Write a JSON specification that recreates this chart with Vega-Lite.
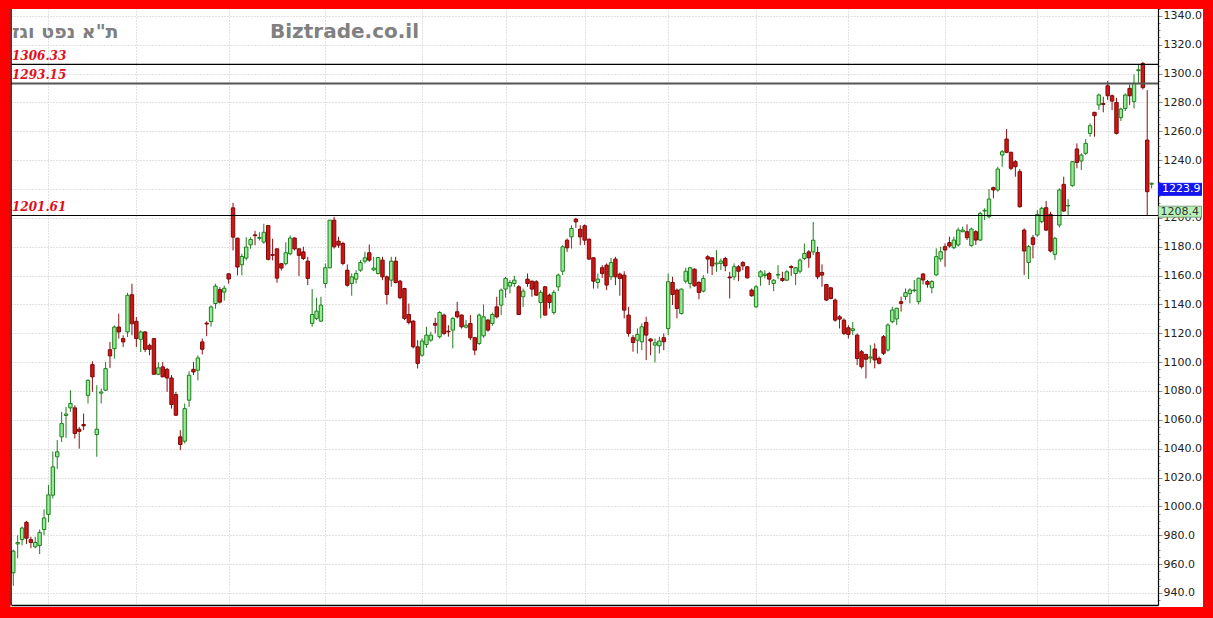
{
  "$schema": "https://vega.github.io/schema/vega-lite/v6.json",
  "width": 1147,
  "height": 597,
  "autosize": {"type": "none"},
  "padding": {"left": 11, "top": 8, "right": 55, "bottom": 13},
  "background": "white",
  "config": {"view": {"stroke": null}, "font": "DejaVu Sans"},
  "datasets": {
    "candles": [
      {"i":1,"open":954,"high":970,"low":945,"close":969},
      {"i":2,"open":974,"high":980,"low":964,"close":975},
      {"i":3,"open":977,"high":986,"low":973,"close":985},
      {"i":4,"open":989,"high":990,"low":974,"close":978},
      {"i":5,"open":977,"high":979,"low":971,"close":975},
      {"i":6,"open":972,"high":979,"low":971,"close":975},
      {"i":7,"open":973,"high":984,"low":967,"close":982},
      {"i":8,"open":984,"high":998,"low":980,"close":992},
      {"i":9,"open":994.5,"high":1015,"low":989,"close":1008},
      {"i":10,"open":1007.8,"high":1038,"low":1005.5,"close":1027.4},
      {"i":11,"open":1034.4,"high":1046,"low":1026,"close":1037.8},
      {"i":12,"open":1048.2,"high":1065.5,"low":1044.7,"close":1057.4},
      {"i":13,"open":1063,"high":1069,"low":1047.5,"close":1064},
      {"i":14,"open":1068.3,"high":1080.5,"low":1065.5,"close":1071.3},
      {"i":15,"open":1068.3,"high":1070,"low":1047,"close":1050.5},
      {"i":16,"open":1053.5,"high":1055,"low":1040,"close":1052},
      {"i":17,"open":1056.8,"high":1064.4,"low":1052.8,"close":1055.8},
      {"i":18,"open":1077,"high":1088,"low":1071.3,"close":1087.4},
      {"i":19,"open":1098.3,"high":1100.6,"low":1079.4,"close":1089.8},
      {"i":20,"open":1049.8,"high":1084,"low":1034.4,"close":1053.5},
      {"i":21,"open":1078.5,"high":1081.7,"low":1071.3,"close":1079.3},
      {"i":22,"open":1080.5,"high":1100,"low":1080,"close":1095.5},
      {"i":23,"open":1108.6,"high":1114,"low":1096,"close":1104.3},
      {"i":24,"open":1109.3,"high":1125.5,"low":1102.4,"close":1124.3},
      {"i":25,"open":1124.3,"high":1133.6,"low":1116.3,"close":1120.9},
      {"i":26,"open":1116.3,"high":1118.6,"low":1110.5,"close":1114},
      {"i":27,"open":1120.9,"high":1148,"low":1117.4,"close":1146.3},
      {"i":28,"open":1146.7,"high":1154.3,"low":1118.6,"close":1126.6},
      {"i":29,"open":1128.3,"high":1131.3,"low":1110.5,"close":1116.3},
      {"i":30,"open":1115.8,"high":1122,"low":1107,"close":1120.9},
      {"i":31,"open":1120.9,"high":1121.5,"low":1107,"close":1108.9},
      {"i":32,"open":1111.6,"high":1112.8,"low":1104.7,"close":1108.9},
      {"i":33,"open":1116.3,"high":1116.5,"low":1091.4,"close":1091.6},
      {"i":34,"open":1091.6,"high":1100,"low":1091,"close":1096},
      {"i":35,"open":1096.7,"high":1100,"low":1089.5,"close":1089.8},
      {"i":36,"open":1095,"high":1096,"low":1079.4,"close":1089},
      {"i":37,"open":1089,"high":1091,"low":1067.8,"close":1070.6},
      {"i":38,"open":1077.5,"high":1079.4,"low":1062.7,"close":1063.2},
      {"i":39,"open":1048.2,"high":1052.8,"low":1039,"close":1042.9},
      {"i":40,"open":1045.2,"high":1071.3,"low":1043.6,"close":1067.8},
      {"i":41,"open":1073.6,"high":1093.7,"low":1069,"close":1090.9},
      {"i":42,"open":1095,"high":1100,"low":1091,"close":1093.2},
      {"i":43,"open":1094.4,"high":1104.7,"low":1087.4,"close":1102.9},
      {"i":44,"open":1114,"high":1116.3,"low":1105.3,"close":1108.9},
      {"i":45,"open":1127,"high":1128.3,"low":1118,"close":1126.4},
      {"i":46,"open":1128.1,"high":1139.3,"low":1124.6,"close":1138.2},
      {"i":47,"open":1140.6,"high":1154.3,"low":1137,"close":1152.7},
      {"i":48,"open":1150.2,"high":1152,"low":1140.6,"close":1141.6},
      {"i":49,"open":1148.5,"high":1153,"low":1142.7,"close":1151.2},
      {"i":50,"open":1161.2,"high":1161.5,"low":1154.3,"close":1157.6},
      {"i":51,"open":1206.9,"high":1210.4,"low":1177.4,"close":1186.6},
      {"i":52,"open":1185.9,"high":1186.2,"low":1160.1,"close":1165.9},
      {"i":53,"open":1167.5,"high":1175.1,"low":1160.1,"close":1173.2},
      {"i":54,"open":1172.1,"high":1186.6,"low":1170.5,"close":1179.7},
      {"i":55,"open":1181.3,"high":1186.6,"low":1178.5,"close":1185},
      {"i":56,"open":1188.2,"high":1191,"low":1181,"close":1187.6},
      {"i":57,"open":1185.8,"high":1190,"low":1184.3,"close":1186.4},
      {"i":58,"open":1183.2,"high":1195.8,"low":1182,"close":1190},
      {"i":59,"open":1194.7,"high":1195,"low":1170.5,"close":1171.2},
      {"i":60,"open":1174.5,"high":1185.5,"low":1170.5,"close":1174},
      {"i":61,"open":1178.5,"high":1178.8,"low":1155,"close":1158.2},
      {"i":62,"open":1168.2,"high":1168.5,"low":1163.5,"close":1165.2},
      {"i":63,"open":1168.2,"high":1183,"low":1167,"close":1175.8},
      {"i":64,"open":1175.1,"high":1187.8,"low":1174,"close":1186},
      {"i":65,"open":1186,"high":1186.5,"low":1177.4,"close":1178.5},
      {"i":66,"open":1178.5,"high":1179,"low":1159.6,"close":1174},
      {"i":67,"open":1176.4,"high":1180,"low":1170.7,"close":1171.8},
      {"i":68,"open":1170,"high":1173,"low":1153.4,"close":1158},
      {"i":69,"open":1126.8,"high":1150.6,"low":1124.5,"close":1133},
      {"i":70,"open":1130.3,"high":1144.6,"low":1129.1,"close":1135.3},
      {"i":71,"open":1128.4,"high":1145.3,"low":1128,"close":1139.5},
      {"i":72,"open":1154.5,"high":1168.4,"low":1151.5,"close":1165.4},
      {"i":73,"open":1165.4,"high":1198.4,"low":1165,"close":1198.4},
      {"i":74,"open":1198.4,"high":1200.7,"low":1178.7,"close":1179.9},
      {"i":75,"open":1183.8,"high":1186.8,"low":1179.2,"close":1181.1},
      {"i":76,"open":1182.2,"high":1183.4,"low":1167.2,"close":1168.4},
      {"i":77,"open":1163.7,"high":1167.7,"low":1152.2,"close":1153.3},
      {"i":78,"open":1154.5,"high":1161.4,"low":1146,"close":1159.1},
      {"i":79,"open":1157.5,"high":1163.7,"low":1154.5,"close":1161.4},
      {"i":80,"open":1163.7,"high":1170.7,"low":1162.6,"close":1169},
      {"i":81,"open":1170,"high":1176.4,"low":1168.4,"close":1172.3},
      {"i":82,"open":1175.8,"high":1181.5,"low":1169.5,"close":1170.7},
      {"i":83,"open":1164,"high":1173,"low":1163,"close":1165.2},
      {"i":84,"open":1161.4,"high":1173,"low":1160.7,"close":1172.5},
      {"i":85,"open":1170.7,"high":1173,"low":1156.8,"close":1159.1},
      {"i":86,"open":1159.1,"high":1160,"low":1140,"close":1146.9},
      {"i":87,"open":1156.8,"high":1173,"low":1152.2,"close":1170},
      {"i":88,"open":1170,"high":1173,"low":1154.5,"close":1155.2},
      {"i":89,"open":1156.1,"high":1157,"low":1143.6,"close":1144.6},
      {"i":90,"open":1151,"high":1151.5,"low":1129.1,"close":1130.3},
      {"i":91,"open":1133,"high":1140.6,"low":1126.1,"close":1127.5},
      {"i":92,"open":1128.4,"high":1129,"low":1109.5,"close":1110.6},
      {"i":93,"open":1110.6,"high":1115.2,"low":1095.6,"close":1099.1},
      {"i":94,"open":1104.8,"high":1116.4,"low":1103.7,"close":1114.6},
      {"i":95,"open":1112.2,"high":1124.5,"low":1110,"close":1118.7},
      {"i":96,"open":1115.2,"high":1121,"low":1114.1,"close":1118.7},
      {"i":97,"open":1126.8,"high":1130.7,"low":1119.9,"close":1125.6},
      {"i":98,"open":1117.6,"high":1135.3,"low":1116.4,"close":1134.4},
      {"i":99,"open":1132.6,"high":1133.7,"low":1118.7,"close":1119.9},
      {"i":100,"open":1121.4,"high":1125.6,"low":1117.6,"close":1121},
      {"i":101,"open":1122.2,"high":1131.4,"low":1109.5,"close":1130.3},
      {"i":102,"open":1134.9,"high":1141.8,"low":1130.3,"close":1131.4},
      {"i":103,"open":1132.6,"high":1133,"low":1123.3,"close":1124.5},
      {"i":104,"open":1124.2,"high":1129.1,"low":1123.3,"close":1125.6},
      {"i":105,"open":1126.8,"high":1132.6,"low":1115.2,"close":1116.9},
      {"i":106,"open":1116.9,"high":1117.5,"low":1104.8,"close":1108.3},
      {"i":107,"open":1112.9,"high":1133.7,"low":1111.8,"close":1132.6},
      {"i":108,"open":1118.2,"high":1140,"low":1116.9,"close":1131.4},
      {"i":109,"open":1129.1,"high":1130,"low":1121,"close":1122.2},
      {"i":110,"open":1126.8,"high":1134.4,"low":1125.2,"close":1133},
      {"i":111,"open":1138.3,"high":1145.3,"low":1130.3,"close":1131.4},
      {"i":112,"open":1139.5,"high":1151,"low":1132.6,"close":1149.9},
      {"i":113,"open":1150.6,"high":1159.1,"low":1144.6,"close":1158},
      {"i":114,"open":1152.7,"high":1156.8,"low":1147.6,"close":1155.2},
      {"i":115,"open":1154.5,"high":1159.8,"low":1152.2,"close":1156.8},
      {"i":116,"open":1152.2,"high":1153.4,"low":1132.6,"close":1133},
      {"i":117,"open":1145.3,"high":1151,"low":1138.3,"close":1149.2},
      {"i":118,"open":1157.5,"high":1161.4,"low":1152.2,"close":1154.5},
      {"i":119,"open":1156.1,"high":1156.5,"low":1145.3,"close":1150.6},
      {"i":120,"open":1155.7,"high":1156.8,"low":1146,"close":1146.4},
      {"i":121,"open":1141.3,"high":1149.9,"low":1130.3,"close":1148.3},
      {"i":122,"open":1152.2,"high":1152.8,"low":1132.3,"close":1132.6},
      {"i":123,"open":1146.4,"high":1147.5,"low":1137.2,"close":1141.3},
      {"i":124,"open":1134.4,"high":1149.9,"low":1133,"close":1148.3},
      {"i":125,"open":1152.2,"high":1161.4,"low":1149.2,"close":1160.3},
      {"i":126,"open":1163,"high":1181.1,"low":1160.3,"close":1179.9},
      {"i":127,"open":1184.5,"high":1185.7,"low":1176.4,"close":1179.2},
      {"i":128,"open":1186.8,"high":1194.9,"low":1178.7,"close":1192.6},
      {"i":129,"open":1199.1,"high":1200,"low":1193,"close":1197.2},
      {"i":130,"open":1192.1,"high":1194.9,"low":1181.1,"close":1186.8},
      {"i":131,"open":1194.5,"high":1195.4,"low":1181.1,"close":1184.5},
      {"i":132,"open":1185.2,"high":1185.6,"low":1170.7,"close":1171.4},
      {"i":133,"open":1172.3,"high":1172.8,"low":1151,"close":1156.1},
      {"i":134,"open":1155.2,"high":1161.4,"low":1151,"close":1157.5},
      {"i":135,"open":1165.4,"high":1167.2,"low":1158.4,"close":1161.4},
      {"i":136,"open":1167.2,"high":1168.4,"low":1149.9,"close":1153.4},
      {"i":137,"open":1159.1,"high":1172.3,"low":1156.8,"close":1169},
      {"i":138,"open":1171.4,"high":1173,"low":1153.4,"close":1159.1},
      {"i":139,"open":1161,"high":1162,"low":1146,"close":1158},
      {"i":140,"open":1160.3,"high":1163,"low":1130.3,"close":1136},
      {"i":141,"open":1132.6,"high":1138.3,"low":1117.6,"close":1119.9},
      {"i":142,"open":1116.9,"high":1118.7,"low":1107.2,"close":1113.6},
      {"i":143,"open":1115.2,"high":1123.3,"low":1106,"close":1119.2},
      {"i":144,"open":1114.1,"high":1126.8,"low":1108.3,"close":1124.5},
      {"i":145,"open":1127.5,"high":1131.4,"low":1101.4,"close":1118.7},
      {"i":146,"open":1116,"high":1116.5,"low":1104.8,"close":1114.6},
      {"i":147,"open":1111.8,"high":1116.4,"low":1099.8,"close":1113.4},
      {"i":148,"open":1111.3,"high":1117.6,"low":1106,"close":1114.6},
      {"i":149,"open":1116.9,"high":1119.9,"low":1108.3,"close":1114.1},
      {"i":150,"open":1123.3,"high":1161.4,"low":1118.7,"close":1155.7},
      {"i":151,"open":1155.2,"high":1159.1,"low":1139.5,"close":1146.9},
      {"i":152,"open":1149.9,"high":1151,"low":1130.3,"close":1137.2},
      {"i":153,"open":1133.7,"high":1151,"low":1133,"close":1150.6},
      {"i":154,"open":1156.1,"high":1165.4,"low":1154.5,"close":1163},
      {"i":155,"open":1154.5,"high":1166.1,"low":1151,"close":1165.4},
      {"i":156,"open":1164.4,"high":1165,"low":1152.2,"close":1152.9},
      {"i":157,"open":1155.2,"high":1156.1,"low":1143.6,"close":1148.3},
      {"i":158,"open":1149.2,"high":1160.3,"low":1148.3,"close":1158},
      {"i":159,"open":1173,"high":1174.1,"low":1161.4,"close":1171.4},
      {"i":160,"open":1172.3,"high":1172.5,"low":1160.3,"close":1166.7},
      {"i":161,"open":1168,"high":1177.6,"low":1162.6,"close":1168.6},
      {"i":162,"open":1168.4,"high":1171.8,"low":1163.7,"close":1170},
      {"i":163,"open":1171.8,"high":1173,"low":1163,"close":1166.7},
      {"i":164,"open":1159,"high":1162.6,"low":1144.1,"close":1158.4},
      {"i":165,"open":1159.1,"high":1168.4,"low":1156.8,"close":1166.1},
      {"i":166,"open":1166.1,"high":1167.2,"low":1156.1,"close":1163},
      {"i":167,"open":1169,"high":1170,"low":1163.7,"close":1166.7},
      {"i":168,"open":1166.1,"high":1166.5,"low":1158,"close":1158.4},
      {"i":169,"open":1149.9,"high":1151,"low":1145.3,"close":1146},
      {"i":170,"open":1138.3,"high":1153.4,"low":1137.6,"close":1152.2},
      {"i":171,"open":1159.1,"high":1163.7,"low":1152.9,"close":1162.6},
      {"i":172,"open":1160,"high":1163.7,"low":1158,"close":1161},
      {"i":173,"open":1161.4,"high":1162.6,"low":1153.4,"close":1157.5},
      {"i":174,"open":1154.5,"high":1157.5,"low":1149.2,"close":1156.8},
      {"i":175,"open":1160.3,"high":1167.2,"low":1157.5,"close":1160.8},
      {"i":176,"open":1158,"high":1162.6,"low":1155.7,"close":1156.6},
      {"i":177,"open":1156.8,"high":1163.7,"low":1156.1,"close":1162.6},
      {"i":178,"open":1166.2,"high":1167.2,"low":1159.8,"close":1165.6},
      {"i":179,"open":1161.4,"high":1166.1,"low":1153.4,"close":1165.4},
      {"i":180,"open":1163,"high":1171.8,"low":1161.4,"close":1170.7},
      {"i":181,"open":1171.8,"high":1182.2,"low":1170.7,"close":1175.3},
      {"i":182,"open":1176.4,"high":1177.6,"low":1165.4,"close":1172.3},
      {"i":183,"open":1176.4,"high":1197.2,"low":1174.1,"close":1184.5},
      {"i":184,"open":1176,"high":1180,"low":1157.5,"close":1159.1},
      {"i":185,"open":1162.1,"high":1167.7,"low":1152.2,"close":1160.3},
      {"i":186,"open":1153.8,"high":1154.2,"low":1142.3,"close":1143},
      {"i":187,"open":1151.5,"high":1152,"low":1143.6,"close":1144.1},
      {"i":188,"open":1143,"high":1144.1,"low":1128,"close":1129.1},
      {"i":189,"open":1131.4,"high":1132.6,"low":1123.3,"close":1129.8},
      {"i":190,"open":1129.1,"high":1130.3,"low":1118.7,"close":1119.9},
      {"i":191,"open":1123.8,"high":1125.6,"low":1116.4,"close":1119.2},
      {"i":192,"open":1121.9,"high":1127.9,"low":1118.7,"close":1123.1},
      {"i":193,"open":1118.7,"high":1119.9,"low":1097.9,"close":1102.5},
      {"i":194,"open":1107.2,"high":1108.3,"low":1095.6,"close":1096.8},
      {"i":195,"open":1105.3,"high":1105.8,"low":1088.7,"close":1102},
      {"i":196,"open":1102.8,"high":1111.9,"low":1099.2,"close":1103.6},
      {"i":197,"open":1109.1,"high":1113,"low":1095.7,"close":1101.5},
      {"i":198,"open":1102.6,"high":1103.8,"low":1098.5,"close":1099.2},
      {"i":199,"open":1117.6,"high":1118.8,"low":1104.9,"close":1106.1},
      {"i":200,"open":1108.4,"high":1126.9,"low":1107.3,"close":1125.7},
      {"i":201,"open":1128,"high":1138.4,"low":1126.9,"close":1136.1},
      {"i":202,"open":1129.9,"high":1137.7,"low":1125.7,"close":1137.3},
      {"i":203,"open":1141.9,"high":1145.4,"low":1135,"close":1140.7},
      {"i":204,"open":1145.4,"high":1151.1,"low":1143,"close":1148.1},
      {"i":205,"open":1147.4,"high":1151.1,"low":1140.7,"close":1150},
      {"i":206,"open":1149.6,"high":1156.9,"low":1148.4,"close":1150},
      {"i":207,"open":1141.9,"high":1158.5,"low":1140,"close":1158.1},
      {"i":208,"open":1161.1,"high":1161.5,"low":1153.9,"close":1156.9},
      {"i":209,"open":1155.8,"high":1156.9,"low":1151.6,"close":1153.9},
      {"i":210,"open":1151.6,"high":1156.9,"low":1147.7,"close":1155.8},
      {"i":211,"open":1160.4,"high":1178.8,"low":1159.9,"close":1173.1},
      {"i":212,"open":1171.5,"high":1180,"low":1169.6,"close":1176.5},
      {"i":213,"open":1180,"high":1182.3,"low":1166.1,"close":1177.7},
      {"i":214,"open":1182.8,"high":1186.9,"low":1179.3,"close":1180.5},
      {"i":215,"open":1179.3,"high":1186.9,"low":1178.4,"close":1184.6},
      {"i":216,"open":1181.2,"high":1193.2,"low":1180,"close":1191.5},
      {"i":217,"open":1190.4,"high":1193.9,"low":1190,"close":1191.5},
      {"i":218,"open":1190.4,"high":1195.5,"low":1184.6,"close":1186.2},
      {"i":219,"open":1180.7,"high":1193.2,"low":1180,"close":1192.2},
      {"i":220,"open":1190.4,"high":1191.5,"low":1181.2,"close":1184.6},
      {"i":221,"open":1184.6,"high":1204.2,"low":1183.9,"close":1203.1},
      {"i":222,"open":1204.7,"high":1206.6,"low":1198.5,"close":1205.2},
      {"i":223,"open":1200.8,"high":1220,"low":1199.6,"close":1213},
      {"i":224,"open":1220.9,"high":1221.6,"low":1213.5,"close":1219.3},
      {"i":225,"open":1219.3,"high":1235.4,"low":1218.1,"close":1233.8},
      {"i":226,"open":1243.5,"high":1247,"low":1235.4,"close":1245.8},
      {"i":227,"open":1254.6,"high":1261.5,"low":1244.7,"close":1245.4},
      {"i":228,"open":1245.4,"high":1245.8,"low":1233.1,"close":1234.3},
      {"i":229,"open":1238.9,"high":1240,"low":1228.5,"close":1235.4},
      {"i":230,"open":1232,"high":1233.8,"low":1207,"close":1207.7},
      {"i":231,"open":1191.5,"high":1192.7,"low":1160.4,"close":1177},
      {"i":232,"open":1169.1,"high":1181.2,"low":1157.6,"close":1180},
      {"i":233,"open":1186.2,"high":1188.1,"low":1171.9,"close":1181.6},
      {"i":234,"open":1188.1,"high":1205.4,"low":1186.9,"close":1202.4},
      {"i":235,"open":1197.3,"high":1207.7,"low":1196.2,"close":1206.6},
      {"i":236,"open":1207,"high":1211.6,"low":1190.9,"close":1191.5},
      {"i":237,"open":1202.4,"high":1204.2,"low":1176,"close":1177},
      {"i":238,"open":1174.7,"high":1186.9,"low":1170.8,"close":1185.8},
      {"i":239,"open":1195,"high":1220.4,"low":1193.2,"close":1219.3},
      {"i":240,"open":1223.2,"high":1228.5,"low":1204.2,"close":1204.7},
      {"i":241,"open":1208.2,"high":1213,"low":1201.5,"close":1208.6},
      {"i":242,"open":1222.3,"high":1239.4,"low":1221.6,"close":1238.9},
      {"i":243,"open":1247.7,"high":1251.6,"low":1234.3,"close":1238.4},
      {"i":244,"open":1239.4,"high":1244.7,"low":1233.1,"close":1243.5},
      {"i":245,"open":1244.7,"high":1254.6,"low":1243.5,"close":1251.6},
      {"i":246,"open":1258.5,"high":1265.4,"low":1256.2,"close":1263.8},
      {"i":247,"open":1273.1,"high":1273.5,"low":1256.2,"close":1270.8},
      {"i":248,"open":1278.2,"high":1286.2,"low":1274.7,"close":1285.1},
      {"i":249,"open":1279.2,"high":1283.9,"low":1273.1,"close":1278.6},
      {"i":250,"open":1291.5,"high":1294.8,"low":1281.6,"close":1284.6},
      {"i":251,"open":1284.6,"high":1285.5,"low":1274.7,"close":1280.9},
      {"i":252,"open":1280,"high":1283.2,"low":1257.8,"close":1258.5},
      {"i":253,"open":1269.4,"high":1276.3,"low":1267.1,"close":1275.4},
      {"i":254,"open":1275.8,"high":1286.2,"low":1274,"close":1285.1},
      {"i":255,"open":1289.7,"high":1292.5,"low":1278.2,"close":1284.6},
      {"i":256,"open":1280.5,"high":1299.4,"low":1275.8,"close":1293.2},
      {"i":257,"open":1302,"high":1305.9,"low":1293.2,"close":1302.6},
      {"i":258,"open":1307,"high":1308,"low":1289,"close":1290.2},
      {"i":259,"open":1253.9,"high":1288.5,"low":1201.5,"close":1218.1},
      {"i":260,"open":1223.3,"high":1224.5,"low":1220.4,"close":1223.9}
    ],
    "levels": [
      {"level": 1306.33, "label": "1306.33"},
      {"level": 1293.15, "label": "1293.15"},
      {"level": 1201.61, "label": "1201.61"}
    ],
    "last": [{"price": 1223.9, "label": "1223.9"}],
    "ref": [{"price": 1208.4, "label": "1208.4"}],
    "one": [{}]
  },
  "layer": [
    {
      "data": {"name": "candles"},
      "mark": {"type": "rule", "strokeWidth": 1},
      "encoding": {
        "x": {
          "field": "i", "type": "quantitative",
          "scale": {"domain": [0.48, 261.45], "nice": false, "zero": false, "padding": 0},
          "axis": {
            "values": [9, 29, 50, 72, 94, 113, 131, 150, 170, 191, 213, 234, 250],
            "tickCount": 100,
            "labels": false, "ticks": false, "title": null,
            "domain": true, "domainColor": "#000000", "domainWidth": 1.5,
            "grid": true, "gridColor": "#c4c4c4", "gridDash": [1, 2], "gridWidth": 1
          }
        },
        "y": {
          "field": "low", "type": "quantitative",
          "scale": {"domain": [931.68, 1345.41], "nice": false, "zero": false, "padding": 0},
          "axis": {
            "orient": "right", "title": null,
            "tickCount": 500,
            "values": [935,940,945,950,955,960,965,970,975,980,985,990,995,1000,1005,1010,1015,1020,1025,1030,1035,1040,1045,1050,1055,1060,1065,1070,1075,1080,1085,1090,1095,1100,1105,1110,1115,1120,1125,1130,1135,1140,1145,1150,1155,1160,1165,1170,1175,1180,1185,1190,1195,1200,1205,1210,1215,1220,1225,1230,1235,1240,1245,1250,1255,1260,1265,1270,1275,1280,1285,1290,1295,1300,1305,1310,1315,1320,1325,1330,1335,1340,1345],
            "labelExpr": "datum.value % 20 === 0 ? format(datum.value, '.1f') : ''",
            "labelOverlap": false,
            "labelFlush": false,
            "domain": true, "domainColor": "#000000", "domainWidth": 1.2,
            "tickColor": "#8a8a8a",
            "tickSize": {"condition": {"test": "datum.value % 20 === 0", "value": 4}, "value": 2},
            "labelPadding": 1,
            "labelFont": "DejaVu Sans", "labelFontSize": 11, "labelColor": "#222222",
            "grid": true, "gridColor": "#c4c4c4", "gridDash": [1, 2], "gridWidth": 1,
            "gridOpacity": {"condition": {"test": "datum.value % 20 === 0", "value": 1}, "value": 0}
          }
        },
        "y2": {"field": "high"},
        "stroke": {
          "condition": {"test": "datum.close >= datum.open", "value": "#1f7f1f"},
          "value": "#8a1010"
        }
      }
    },
    {
      "data": {"name": "candles"},
      "mark": {"type": "bar", "width": 3.4, "strokeWidth": 1},
      "encoding": {
        "x": {"field": "i", "type": "quantitative"},
        "y": {"field": "open", "type": "quantitative"},
        "y2": {"field": "close"},
        "fill": {
          "condition": {"test": "datum.close >= datum.open", "value": "#98ec98"},
          "value": "#d11515"
        },
        "stroke": {
          "condition": {"test": "datum.close >= datum.open", "value": "#1f7f1f"},
          "value": "#7a0a0a"
        }
      }
    },
    {
      "data": {"name": "levels"},
      "mark": {"type": "rule"},
      "encoding": {
        "y": {"field": "level", "type": "quantitative"},
        "stroke": {"condition": {"test": "datum.level === 1293.15", "value": "#555555"}, "value": "#000000"},
        "strokeWidth": {"condition": {"test": "datum.level === 1293.15", "value": 2}, "value": 1.2}
      }
    },
    {
      "data": {"name": "levels"},
      "mark": {"type": "text", "align": "left", "baseline": "alphabetic", "dy": -4,
               "font": "DejaVu Serif", "fontStyle": "italic", "fontWeight": "bold",
               "fontSize": 12, "fill": "#e0101c"},
      "encoding": {
        "x": {"datum": 0.71},
        "y": {"field": "level", "type": "quantitative"},
        "text": {"field": "label"}
      }
    },
    {
      "data": {"name": "one"},
      "mark": {"type": "rule", "stroke": "#000000", "strokeWidth": 1.5},
      "encoding": {"x": {"datum": 0.48}}
    },
    {
      "data": {"name": "one"},
      "mark": {"type": "text", "align": "left", "baseline": "middle",
               "font": "DejaVu Sans", "fontWeight": "bold", "fontSize": 19, "fill": "#808080"},
      "encoding": {
        "x": {"datum": 0.71},
        "y": {"datum": 1328.78},
        "text": {"value": "ת\"א נפט וגז"}
      }
    },
    {
      "data": {"name": "one"},
      "mark": {"type": "text", "align": "left", "baseline": "middle",
               "font": "DejaVu Sans", "fontWeight": "bold", "fontSize": 20, "fill": "#808080"},
      "encoding": {
        "x": {"datum": 59.41},
        "y": {"datum": 1328.78},
        "text": {"value": "Biztrade.co.il"}
      }
    },
    {
      "data": {"name": "last"},
      "mark": {"type": "tick", "orient": "horizontal", "size": 43, "thickness": 12,
               "yOffset": 6, "fill": "#1414f0", "stroke": "#1414f0", "opacity": 1, "clip": false},
      "encoding": {
        "x": {"datum": 266.46},
        "y": {"field": "price", "type": "quantitative"}
      }
    },
    {
      "data": {"name": "last"},
      "mark": {"type": "text", "align": "left", "baseline": "middle", "dy": 6,
               "font": "DejaVu Sans", "fontSize": 11, "fill": "#ffffff", "clip": false},
      "encoding": {
        "x": {"datum": 262.37},
        "y": {"field": "price", "type": "quantitative"},
        "text": {"field": "label"}
      }
    },
    {
      "data": {"name": "ref"},
      "mark": {"type": "tick", "orient": "horizontal", "size": 43, "thickness": 11,
               "yOffset": 6, "fill": "#b6f2b6", "stroke": "#6a8a6a", "strokeWidth": 0.8, "opacity": 1, "clip": false},
      "encoding": {
        "x": {"datum": 266.46},
        "y": {"field": "price", "type": "quantitative"}
      }
    },
    {
      "data": {"name": "ref"},
      "mark": {"type": "text", "align": "left", "baseline": "middle", "dy": 6,
               "font": "DejaVu Sans", "fontSize": 11, "fill": "#333333", "clip": false},
      "encoding": {
        "x": {"datum": 262.0},
        "y": {"field": "price", "type": "quantitative"},
        "text": {"field": "label"}
      }
    },
    {
      "data": {"name": "one"},
      "mark": {"type": "rect", "fill": "transparent", "stroke": "#ff0000", "strokeWidth": 11, "clip": false},
      "encoding": {
        "x": {"datum": -0.885},
        "x2": {"datum": 272.94},
        "y": {"datum": 1348.53},
        "y2": {"datum": 926.48}
      }
    }
  ]
}
